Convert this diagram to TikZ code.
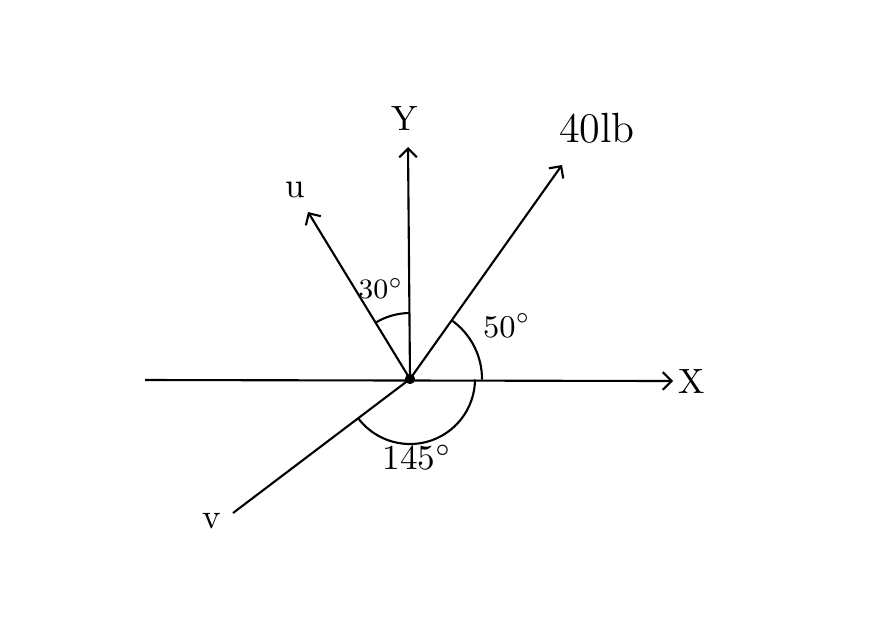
\documentclass[tikz,border=0pt]{standalone}
\usepackage{tikz}
\usepackage{tkz-euclide}
\usetikzlibrary{arrows.meta}

\tikzset{
  axisline/.style={line width=0.6pt,-{Straight Barb[length=2.5pt,width=5pt]}},
  plainline/.style={line width=0.6pt},
  anglearc/.style={line width=0.6pt},
  lbl/.style={inner sep=0pt}
}

\begin{document}
\begin{tikzpicture}
    \useasboundingbox (0,0) rectangle (8.7,6.37);
    \tkzDefPoint(4.10,2.58){O}
    \tkzDefPoint(1.45,2.57){XL}
    \tkzDefPoint(6.73,2.56){XR}
    \tkzDefPoint(4.08,4.90){YT}
    \tkzDefPoint(3.08,4.25){UT}
    \tkzDefPoint(5.62,4.72){LT}
    \tkzDefPoint(2.33,1.24){VT}
    % axes and force
    \draw[axisline] (XL) -- (XR);
    \draw[axisline] (O) -- (YT);
    \draw[axisline] (O) -- (UT);
    \draw[axisline] (O) -- (LT);
    \draw[plainline] (O) -- (VT);
    \tkzDrawPoint[size=2.5pt,fill=black](O)
    % angles
    \tkzMarkAngle[anglearc,size=0.66](YT,O,UT)
    \tkzMarkAngle[anglearc,size=0.72](XR,O,LT)
    \tkzMarkAngle[anglearc,size=0.65](VT,O,XR)
    % labels
    \node[lbl] (labX) at (6.92,2.56) {X};
    \node[lbl] (labY) at (4.05,5.19) {Y};
    \node[lbl] (labU) at (2.95,4.47) {u};
    \node[lbl] (labV) at (2.12,1.16) {v};
    \node[lbl,font=\large] (labF) at (5.97,5.09) {40lb};
    \node[lbl,font=\footnotesize] (lab30) at (3.81,3.48) {30$^\circ$};
    \node[lbl,font=\small] (lab50) at (5.07,3.11) {50$^\circ$};
    \node[lbl] (lab145) at (4.17,1.79) {145$^\circ$};
\end{tikzpicture}
\end{document}
